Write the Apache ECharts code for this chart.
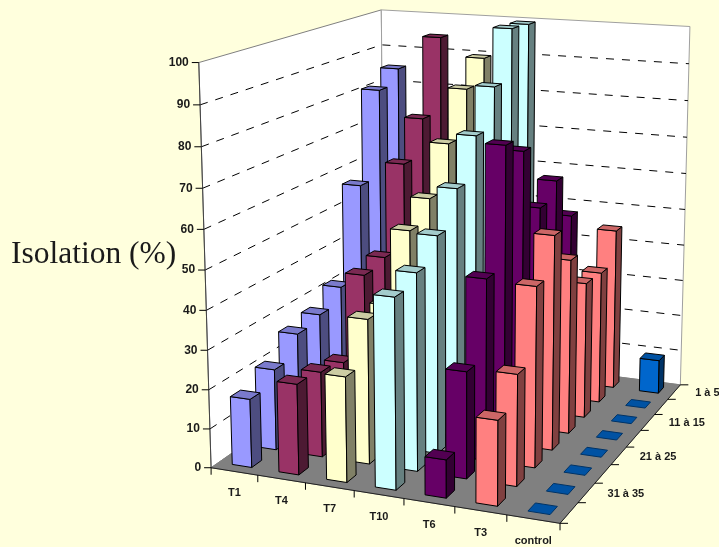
<!DOCTYPE html>
<html><head><meta charset="utf-8">
<style>html,body{margin:0;padding:0;background:#FFFFDD}#c{width:719px;height:547px}</style>
<script src="https://cdn.jsdelivr.net/npm/echarts@6/dist/echarts.min.js"></script>
</head><body><div id="c"></div>
<script>
const categories = ['T1','T4','T7','T10','T6','T3','control'];
const rows = ['1 à 5','6 à 10','11 à 15','16 à 20','21 à 25','26 à 30','31 à 35','36 à 40'];
const yTicks = [0,10,20,30,40,50,60,70,80,90,100];
// values per category, rows from "1 à 5" to the last one
const T1 = [85,81,57,32,28,26.5,21,17.5];
const T4 = [94.5,74,64,41.5,40,20.5,22,23];
const T7 = [89.5,83,70.5,58.5,53,37,37,26.5];
const T10 = [99.5,100,86.5,76,65,56,50,47.5];
const T6 = [47.5,60,55.5,73,77,46.5,27,9.5];
const T3 = [44.5,36,36.5,46,55.5,46,28,21];
const control = [9.3,0,0,0,0,0,0,0];
const seriesValues = [T1,T4,T7,T10,T6,T3,control];
const faceColors = ['#9999FF','#993366','#FFFFCC','#CCFFFF','#660066','#FF8080','#0066CC'];
const sideColors = ['#4D4D80','#4D1A33','#808066','#668080','#330033','#804040','#003366'];
const topColors  = ['#7A7ACC','#7A2952','#CCCCA3','#A3CCCC','#520052','#CC6666','#0052A3'];

// camera calibration: [x, depth, value] -> screen anchors of the plot box
const anchors = [
 [[0,8,0],[211.5,468]],[[7,8,0],[560,523.3]],[[7,0,0],[680.7,384.3]],
 [[0,8,100],[199,62]],[[7,0,100],[690,27]],[[0,0,100],[381,10]],
 [[7,4,0],[625.3,447.7]],[[0,8,50],[205,270]],[[7,0,50],[685.5,209]],[[0,0,90],[381.5,45]]
];
function solveCamera(){
  const A=[],b=[];
  anchors.forEach(([p,s])=>{
    const X=p[0],Z=p[1],Y=p[2]/100,u=s[0],v=s[1];
    A.push([X,Z,Y,1,0,0,0,0,-u*X,-u*Z,-u*Y]);b.push(u);
    A.push([0,0,0,0,X,Z,Y,1,-v*X,-v*Z,-v*Y]);b.push(v);
  });
  const n=11,M=[];
  for(let i=0;i<n;i++){M.push(new Array(n+1).fill(0));
    for(let j=0;j<n;j++)for(let k=0;k<A.length;k++)M[i][j]+=A[k][i]*A[k][j];
    for(let k=0;k<A.length;k++)M[i][n]+=A[k][i]*b[k];}
  for(let c=0;c<n;c++){let p=c;for(let r=c+1;r<n;r++)if(Math.abs(M[r][c])>Math.abs(M[p][c]))p=r;
    [M[c],M[p]]=[M[p],M[c]];
    for(let r=0;r<n;r++){if(r===c)continue;const f=M[r][c]/M[c][c];for(let j=c;j<=n;j++)M[r][j]-=f*M[c][j];}}
  return M.map((r,i)=>r[n]/r[i]);
}
const cam=solveCamera();
function project(x,z,y){
  const Y=y/100,w=cam[8]*x+cam[9]*z+cam[10]*Y+1;
  return [(cam[0]*x+cam[1]*z+cam[2]*Y+cam[3])/w,(cam[4]*x+cam[5]*z+cam[6]*Y+cam[7])/w];
}
const barW=0.42,barD=0.40;
function poly(api,pts,fill,stroke,lw){
  return {type:'polygon',shape:{points:pts.map(p=>api.coord(project(p[0],p[1],p[2])))},
    style:{fill:fill,stroke:stroke,lineWidth:lw==null?1:lw,lineJoin:'miter'}};
}
function line(api,pts,stroke,dash,lw){
  return {type:'polyline',shape:{points:pts.map(p=>api.coord(project(p[0],p[1],p[2])))},
    style:{fill:null,stroke:stroke,lineWidth:lw||1,lineDash:dash||null}};
}
function renderBox(ci){
  return function(params,api){
    const r=api.value(0),v=api.value(1);
    const x0=ci+.5-barW/2,x1=ci+.5+barW/2,z0=r+.5-barD/2,z1=r+.5+barD/2;
    const ch=[];
    if(v>0){
      ch.push(poly(api,[[x0,z1,0],[x1,z1,0],[x1,z1,v],[x0,z1,v]],faceColors[ci],'#000'));
      ch.push(poly(api,[[x1,z1,0],[x1,z0,0],[x1,z0,v],[x1,z1,v]],sideColors[ci],'#000'));
    }
    ch.push(poly(api,[[x0,z1,v],[x1,z1,v],[x1,z0,v],[x0,z0,v]],topColors[ci],v>0?'#000':'#003366'));
    return {type:'group',children:ch};
  };
}
function renderFrame(params,api){
  const ch=[];
  ch.push(poly(api,[[0,8,0],[0,0,0],[0,0,100],[0,8,100]],'#FFFFFF','#808080'));
  ch.push(poly(api,[[0,0,0],[7,0,0],[7,0,100],[0,0,100]],'#FFFFFF','#A0A0A0'));
  ch.push(poly(api,[[0,8,0],[7,8,0],[7,0,0],[0,0,0]],'#808080','#808080'));
  yTicks.filter(t=>t>0&&t<100).forEach(t=>{
    ch.push(line(api,[[0,8,t],[0,0,t],[7,0,t]],'#000',[8,8]));
  });
  ch.push(line(api,[[0,8,0],[0,8,100]],'#444'));
  ch.push(line(api,[[0,8,0],[7,8,0],[7,0,0]],'#222'));
  return {type:'group',children:ch};
}
function renderAxes(params,api){
  const ch=[];
  const font='bold 12px "Liberation Sans", Arial, sans-serif';
  const small='bold 11px "Liberation Sans", Arial, sans-serif';
  const seg=(a,dx,dy)=>({type:'line',shape:{x1:a[0],y1:a[1],x2:a[0]+dx,y2:a[1]+dy},style:{stroke:'#000',lineWidth:1}});
  const txt=(s,x,y,al,f)=>({type:'text',x:x,y:y,style:{text:s,font:f,fill:'#1a1a1a',align:al,verticalAlign:'middle'}});
  yTicks.forEach(t=>{
    const a=api.coord(project(0,8,t));
    ch.push(seg(a,-7,0));
    ch.push(txt(String(t),a[0]-10,a[1],'right',font));
  });
  for(let i=0;i<=categories.length;i++){ch.push(seg(api.coord(project(i,8,0)),0,7));}
  categories.forEach((c,i)=>{
    const a=api.coord(project(i+.5,8,0));
    ch.push(txt(c,a[0],a[1]+22,'center',small));
  });
  for(let r=0;r<=rows.length;r++){ch.push(seg(api.coord(project(7,r,0)),8,0));}
  rows.forEach((c,r)=>{
    if(r%2)return;
    const a=api.coord(project(7,r+.5,0));
    ch.push(txt(c,a[0]+21,a[1]+1,'left',small));
  });
  ch.push(txt('Isolation (%)',11,255,'left','31.5px "Liberation Serif", "Times New Roman", serif'));
  return {type:'group',children:ch};
}
const series=[{type:'custom',name:'frame',silent:true,coordinateSystem:'cartesian2d',data:[[0,0]],renderItem:renderFrame,z:1}];
categories.forEach((c,ci)=>{
  series.push({type:'custom',name:c,coordinateSystem:'cartesian2d',clip:false,z:2,
    data:seriesValues[ci].map((v,r)=>[r,v]),renderItem:renderBox(ci),encode:{x:0,y:1}});
});
series.push({type:'custom',name:'axes',silent:true,coordinateSystem:'cartesian2d',data:[[0,0]],renderItem:renderAxes,z:3});
const chart=echarts.init(document.getElementById('c'),null,{renderer:'canvas'});
chart.setOption({
  backgroundColor:'#FFFFDD',animation:false,
  grid:{left:0,right:0,top:0,bottom:0},
  xAxis:{type:'value',min:0,max:719,show:false},
  yAxis:{type:'value',min:0,max:547,inverse:true,show:false},
  series:series
});
</script></body></html>
